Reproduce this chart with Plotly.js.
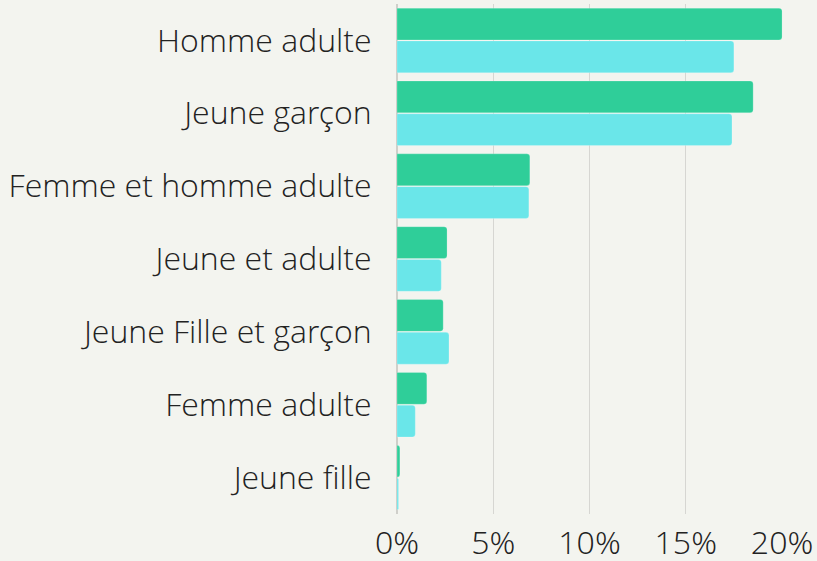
<!DOCTYPE html>
<html>
<head>
<meta charset="utf-8">
<script src="https://cdn.plot.ly/plotly-3.0.1.min.js"></script>
<style>html,body{margin:0;padding:0;background:#f3f4ef;}#chart{width:817px;height:561px;}</style>
</head>
<body>
<div id="chart"></div>
<script>
const categories = ["Homme adulte", "Jeune garçon", "Femme et homme adulte", "Jeune et adulte", "Jeune Fille et garçon", "Femme adulte", "Jeune fille"];
const seriesGreen = [20.0, 18.5, 6.9, 2.6, 2.4, 1.55, 0.15];
const seriesCyan = [17.5, 17.4, 6.85, 2.3, 2.7, 0.95, 0.08];
const tickVals = [0, 5, 10, 15, 20];
const tickText = ["0%", "5%", "10%", "15%", "20%"];

const font = {family: "'Open Sans Light', 'Open Sans'", weight: 300, size: 32, color: "#222"};
const data = [
  {type: "bar", orientation: "h", y: categories, x: seriesGreen, name: "A",
   marker: {color: "#2fce99", cornerradius: 3, line: {color: "rgba(255,255,255,0.3)", width: 0.7}}},
  {type: "bar", orientation: "h", y: categories, x: seriesCyan, name: "B",
   marker: {color: "#6ae6e9", cornerradius: 3, line: {color: "rgba(255,255,255,0.3)", width: 0.7}}}
];
const layout = {
  width: 817, height: 561,
  paper_bgcolor: "#f3f4ef", plot_bgcolor: "#f3f4ef",
  margin: {l: 397, r: 34, t: 4, b: 47},
  showlegend: false,
  barmode: "group", bargap: 0.1, bargroupgap: 0.03,
  font: font,
  xaxis: {range: [0, 20.05], tickvals: tickVals, ticktext: tickText, showgrid: true,
          gridcolor: "#d6d6d2", gridwidth: 1, zeroline: true, zerolinecolor: "#cfcfca", zerolinewidth: 2,
          showline: false, ticks: "outside", ticklen: 1, tickcolor: "rgba(0,0,0,0)", tickfont: font, fixedrange: true},
  yaxis: {autorange: "reversed", showgrid: false, zeroline: false, showline: false,
          ticks: "outside", ticklen: 18, tickcolor: "rgba(0,0,0,0)", tickfont: font, fixedrange: true}
};
Plotly.newPlot("chart", data, layout, {displayModeBar: false, staticPlot: true});
</script>
</body>
</html>
